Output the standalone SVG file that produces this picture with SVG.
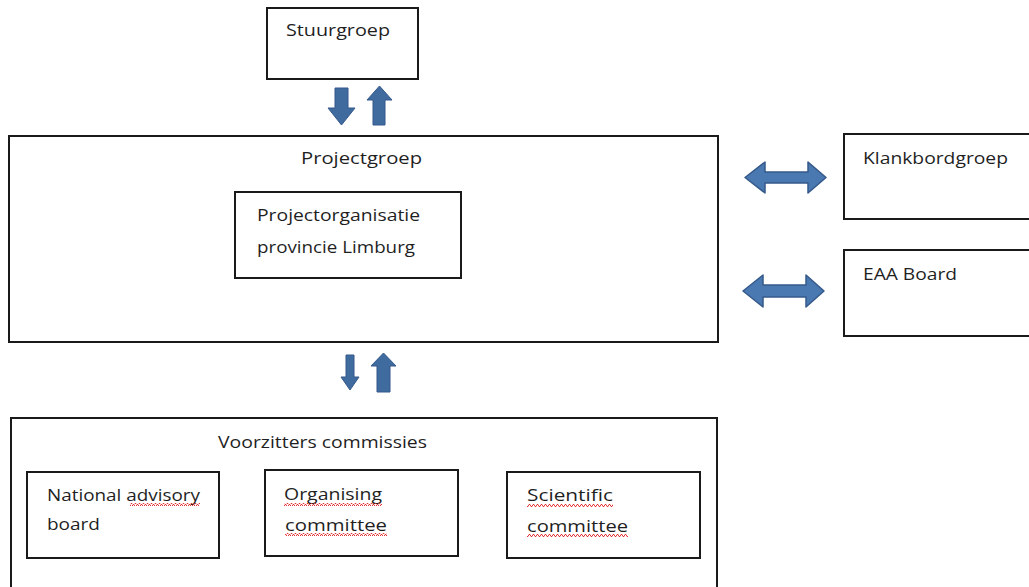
<svg xmlns="http://www.w3.org/2000/svg" width="1029" height="587" viewBox="0 0 1029 587">
<style>
.box{fill:#fff;stroke:#1a1a1a;stroke-width:2}
.t{font-family:"Open Sans","Liberation Sans",sans-serif;font-size:17px;fill:#1f1f1f}
.arr{fill:#3f6b9f;stroke:#35598a;stroke-width:1}
.dbl{fill:#4a78b0;stroke:#35598a;stroke-width:1.5;stroke-linejoin:round}
.sq{fill:url(#squig)}
</style>
<defs>
<pattern id="squig" x="0" y="0" width="4" height="3" patternUnits="userSpaceOnUse">
<path d="M0,2.5 L1,0.5 L2,0.5 L3,2.5 L4,2.5" fill="none" stroke="#e02020" stroke-width="0.9"/>
</pattern>
</defs>
<rect width="1029" height="587" fill="#fff"/>

<g id="stuurgroep">
<rect class="box" x="267" y="8" width="151" height="71"/>
<text class="t" x="286" y="36" textLength="104" lengthAdjust="spacingAndGlyphs">Stuurgroep</text>
</g>

<g id="projectgroep">
<rect class="box" x="9" y="136" width="709" height="206"/>
<text class="t" x="301" y="164" textLength="121" lengthAdjust="spacingAndGlyphs">Projectgroep</text>
</g>

<g id="projectorganisatie">
<rect class="box" x="235" y="192" width="226" height="86"/>
<text class="t" x="257" y="221" textLength="163" lengthAdjust="spacingAndGlyphs">Projectorganisatie</text>
<text class="t" x="257" y="253" textLength="158" lengthAdjust="spacingAndGlyphs">provincie Limburg</text>
</g>

<g id="klankbordgroep">
<rect class="box" x="844" y="134" width="190" height="85"/>
<text class="t" x="863" y="164" textLength="145" lengthAdjust="spacingAndGlyphs">Klankbordgroep</text>
</g>

<g id="eaa-board">
<rect class="box" x="844" y="250" width="190" height="86"/>
<text class="t" x="863" y="280" textLength="94" lengthAdjust="spacingAndGlyphs">EAA Board</text>
</g>

<g id="voorzitters-commissies">
<rect class="box" x="11" y="418" width="706" height="180"/>
<text class="t" x="218" y="448" textLength="209" lengthAdjust="spacingAndGlyphs">Voorzitters commissies</text>
</g>

<g id="national-advisory-board">
<rect class="box" x="27" y="472" width="192" height="86"/>
<text class="t" x="47" y="501" textLength="153" lengthAdjust="spacingAndGlyphs">National advisory</text>
<text class="t" x="47" y="530" textLength="53" lengthAdjust="spacingAndGlyphs">board</text>
<rect class="sq" x="130" y="503" width="70" height="3"/>
</g>

<g id="organising-committee">
<rect class="box" x="265" y="470" width="193" height="86"/>
<text class="t" x="284" y="500" textLength="98" lengthAdjust="spacingAndGlyphs">Organising</text>
<text class="t" x="285" y="531" textLength="102" lengthAdjust="spacingAndGlyphs">committee</text>
<rect class="sq" x="284" y="503" width="98" height="3"/>
<rect class="sq" x="285" y="533" width="102" height="3"/>
</g>

<g id="scientific-committee">
<rect class="box" x="507" y="472" width="193" height="86"/>
<text class="t" x="527" y="501" textLength="86" lengthAdjust="spacingAndGlyphs">Scientific</text>
<text class="t" x="527" y="532" textLength="101" lengthAdjust="spacingAndGlyphs">committee</text>
<rect class="sq" x="527" y="504" width="86" height="3"/>
<rect class="sq" x="527" y="534" width="101" height="3"/>
</g>

<g id="connectors">
<path class="arr" d="M335,88 H348 V108 H355 L341.5,125 L328,108 H335 Z"/>
<path class="arr" d="M379.5,86 L392,100 H385 V125 H373 V100 H367 Z"/>
<path class="arr" d="M346,355 H354 V377 H359 L350,390 L341,377 H346 Z"/>
<path class="arr" d="M383.5,353 L396,366 H390 V392 H377 V366 H371 Z"/>
<path class="dbl" d="M745,177.5 L765,162 V172 H808 V162 L826,177.5 L808,193 V183 H765 V193 Z"/>
<path class="dbl" d="M743,291 L763,275 V285 H806 V275 L824,291 L806,307 V297 H763 V307 Z"/>
</g>
</svg>
